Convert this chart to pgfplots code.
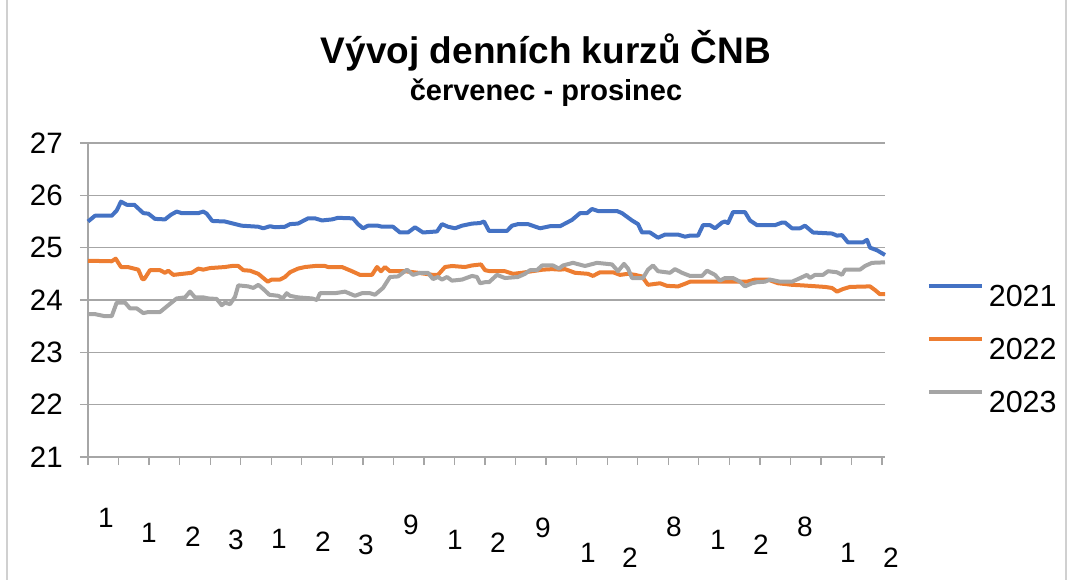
\documentclass[border=0pt]{standalone}
\usepackage{pgfplots}
\pgfplotsset{compat=1.18}
\usepackage{fontspec}
\setmainfont{Liberation Sans}
\definecolor{c2021}{HTML}{4472C4}
\definecolor{c2022}{HTML}{ED7D31}
\definecolor{c2023}{HTML}{A5A5A5}
\definecolor{gridc}{HTML}{A6A6A6}
\definecolor{framec}{HTML}{D0D0D0}
\begin{document}
\begin{tikzpicture}
\path[use as bounding box] (0pt,0pt) rectangle (1071pt,-580pt);
\draw[framec, line width=1.5pt] (7pt,0pt) -- (7pt,-580pt);
\draw[framec, line width=1.5pt] (1066pt,0pt) -- (1066pt,-580pt);
\node[font=\bfseries\fontsize{37}{40}\selectfont, anchor=base] at (546pt,-64pt) {Vývoj denních kurzů ČNB};
\node[font=\bfseries\fontsize{29}{30}\selectfont, anchor=base] at (546pt,-101pt) {červenec - prosinec};
\begin{axis}[
  at={(88pt,-457pt)}, anchor=south west,
  scale only axis, width=797pt, height=314pt,
  xmin=0, xmax=797, ymin=21, ymax=27,
  ytick={21,22,...,27},
  xtick={0,30.54,...,795},
  xticklabels={},
  axis x line*=bottom, axis y line*=left,
  axis line style={gridc, line width=1.3pt, -},
  tick style={gridc, line width=1.3pt},
  tick align=outside, major tick length=8pt,
  ymajorgrids, grid style={gridc, line width=1.3pt},
  /pgf/number format/assume math mode=true,
  yticklabel style={font=\fontsize{29.5}{30}\selectfont, inner sep=0pt, xshift=-17pt},
  legend style={at={(1.0527,0.344)}, anchor=west, draw=none, fill=none,
    inner sep=0pt, outer sep=0pt, font=\fontsize{30.5}{30}\selectfont,
    row sep=29pt, nodes={inner sep=0pt},
    /tikz/every odd column/.append style={column sep=5pt}},
  legend cell align=left,
  legend image code/.code={\draw[#1, line width=3.8pt] (0pt,10.5pt) -- (53pt,10.5pt);},
  clip=false,
]
\addplot[c2021, line width=4pt, line join=round] table {
x y
0 25.50
7 25.61
23.7 25.61
28.7 25.71
33 25.88
38.7 25.82
46.3 25.82
55.3 25.66
60.3 25.65
67 25.55
77 25.54
83 25.63
88.7 25.69
93.7 25.66
110.3 25.66
115.3 25.69
118.7 25.65
124.3 25.51
137 25.50
145.3 25.46
153.7 25.42
170.3 25.40
175.3 25.37
182 25.41
187 25.39
197 25.40
202 25.45
210 25.46
220 25.56
227 25.56
234 25.52
244 25.54
250 25.57
265 25.56
270 25.45
275 25.37
280 25.42
290 25.42
294 25.40
305 25.40
312 25.29
320 25.29
327 25.39
335 25.29
349 25.31
354 25.45
360 25.40
367 25.37
374 25.42
384 25.46
392 25.47
396 25.50
401 25.32
419 25.32
424 25.42
430 25.45
440 25.45
452 25.37
462 25.41
472 25.41
479 25.48
484 25.53
492 25.66
499 25.66
504 25.74
510 25.70
529 25.70
534 25.66
544 25.52
550 25.45
554 25.29
562 25.29
570 25.19
577 25.25
590 25.25
597 25.21
602 25.23
610 25.23
615 25.43
622 25.43
627 25.37
634 25.48
637 25.50
640 25.47
645 25.68
657 25.68
662 25.52
669 25.43
687 25.43
694 25.48
697 25.48
704 25.37
712 25.37
717 25.42
725 25.29
744 25.27
749 25.23
754 25.24
760 25.10
775 25.10
779 25.15
782 25.00
789 24.95
797 24.86
};
\addlegendentry{2021}
\addplot[c2022, line width=4pt, line join=round] table {
x y
0 24.75
23.7 24.74
27.7 24.79
33 24.63
39.7 24.63
50.3 24.58
54.3 24.40
56.3 24.40
62 24.57
72 24.57
77 24.52
80.3 24.56
85.3 24.48
103.7 24.52
110.3 24.60
115.3 24.58
122 24.61
137 24.63
143.7 24.65
150.3 24.65
155.3 24.57
162 24.56
170.3 24.50
179.7 24.35
183.7 24.39
192 24.39
197 24.44
202 24.53
210 24.60
217 24.63
227 24.65
237 24.65
240 24.63
254 24.63
264 24.55
272 24.48
284 24.48
289 24.63
293 24.55
297 24.63
302 24.55
317 24.55
330 24.52
345 24.48
350 24.48
357 24.63
364 24.65
377 24.63
384 24.66
393 24.68
397 24.57
402 24.55
417 24.55
425 24.50
434 24.52
444 24.55
455 24.58
464 24.59
472 24.58
477 24.59
487 24.52
500 24.50
505 24.46
512 24.53
525 24.53
532 24.48
540 24.50
547 24.48
554 24.45
560 24.29
572 24.32
579 24.27
590 24.26
597 24.31
602 24.35
630 24.35
659 24.35
667 24.39
680 24.39
690 24.32
704 24.29
714 24.28
737 24.25
744 24.23
749 24.16
755 24.21
762 24.25
782 24.26
787 24.19
792 24.11
797 24.11
};
\addlegendentry{2022}
\addplot[c2023, line width=4pt, line join=round] table {
x y
0 23.73
7 23.73
17 23.69
23.7 23.69
28.7 23.95
37 23.95
42 23.84
48.7 23.84
55.3 23.75
60.3 23.77
72 23.77
80.3 23.90
88.7 24.03
97 24.05
102 24.16
107 24.05
115.3 24.05
120.3 24.03
128.7 24.02
133.7 23.90
137 23.95
142 23.92
147 24.06
150.3 24.28
160.3 24.26
165.3 24.23
170.3 24.29
175.3 24.21
181.3 24.10
190.3 24.08
194.7 24.03
198.7 24.13
202 24.08
210 24.05
224 24.03
229 24.00
232 24.13
247 24.13
257 24.16
267 24.08
274 24.13
282 24.13
287 24.10
295 24.23
302 24.44
310 24.45
319 24.58
325 24.48
332 24.52
340 24.52
345 24.40
350 24.44
354 24.39
359 24.44
364 24.37
374 24.39
384 24.46
389 24.44
392 24.32
397 24.34
401 24.34
409 24.48
417 24.42
430 24.44
437 24.50
442 24.57
449 24.57
454 24.66
465 24.66
471 24.60
475 24.66
485 24.71
497 24.65
509 24.71
524 24.68
530 24.55
536 24.69
540 24.60
544 24.42
555 24.42
560 24.58
565 24.66
570 24.55
582 24.52
587 24.59
594 24.52
602 24.46
614 24.46
619 24.56
627 24.48
632 24.37
637 24.42
645 24.42
652 24.35
657 24.26
664 24.32
669 24.34
677 24.35
682 24.39
692 24.35
704 24.35
710 24.40
719 24.48
722 24.42
727 24.48
735 24.48
740 24.55
749 24.53
754 24.48
757 24.58
772 24.58
777 24.65
784 24.71
797 24.72
};
\addlegendentry{2023}
\end{axis}
\foreach \x/\y/\t in {106/518/1, 149/533/1, 193/537/2, 236/540/3, 279/539/1, 323/542/2, 366/545/3, 411/525/9, 455/540/1, 498/543/2, 543/528/9, 588/553/1, 630/558/2, 674/527/8, 718/540/1, 761/545/2, 805/527/8, 848/553/1, 891/558/2}
  \node[font=\fontsize{28}{30}\selectfont, inner sep=0pt] at (\x pt,-\y pt) {\t};
\end{tikzpicture}
\end{document}
